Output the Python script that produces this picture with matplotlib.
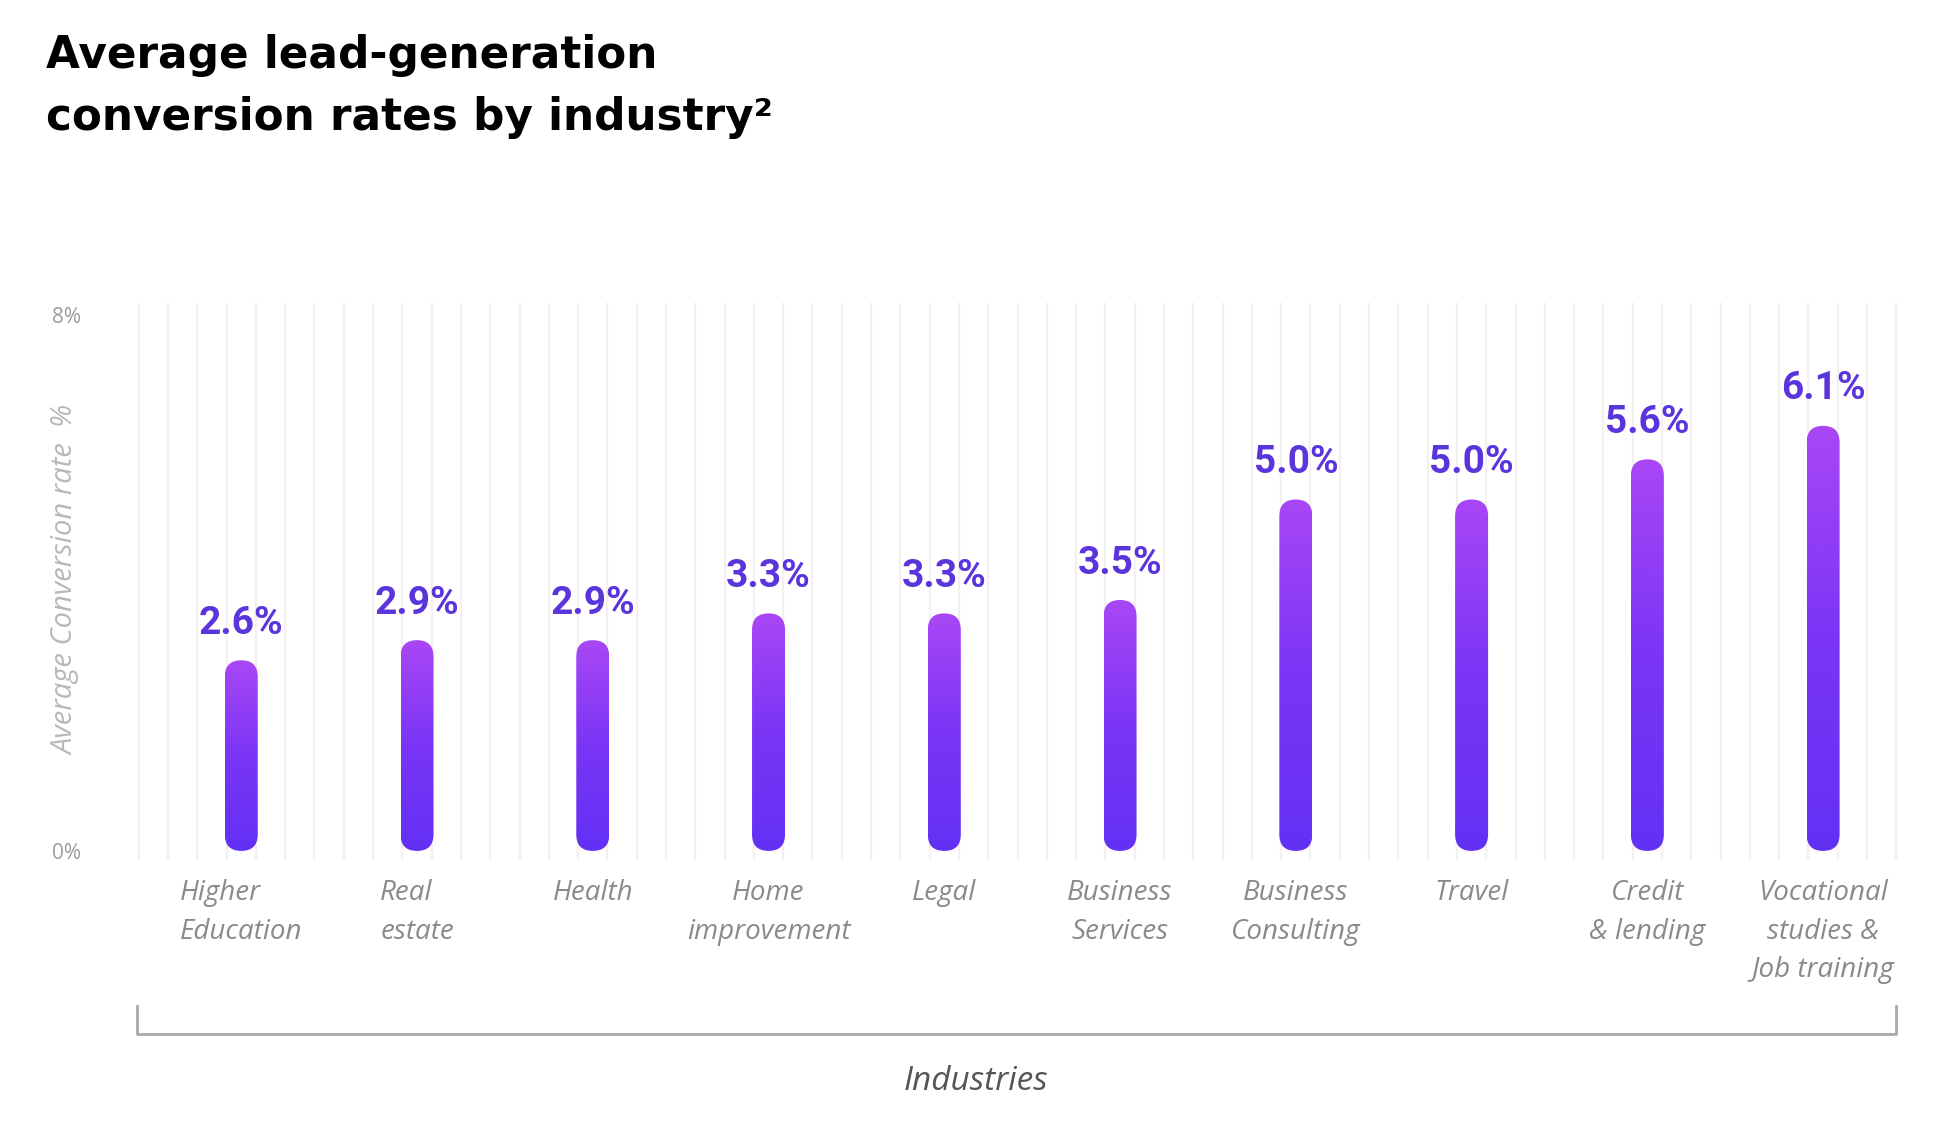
import numpy as np
import matplotlib
matplotlib.use("Agg")
import matplotlib.pyplot as plt
from matplotlib.patches import FancyBboxPatch
from matplotlib.colors import LinearSegmentedColormap
from matplotlib.lines import Line2D

# chart data
industries = ["Higher\nEducation", "Real\nestate", "Health", "Home\nimprovement", "Legal",
              "Business\nServices", "Business\nConsulting", "Travel", "Credit\n& lending",
              "Vocational\nstudies &\nJob training"]
rates = [2.6, 2.9, 2.9, 3.3, 3.3, 3.5, 5.0, 5.0, 5.6, 6.1]
value_labels = ["2.6%", "2.9%", "2.9%", "3.3%", "3.3%", "3.5%", "5.0%", "5.0%", "5.6%", "6.1%"]
y_ticks = [0, 8]
y_tick_labels = ["0%", "8%"]

W, H, DPI = 1938, 1124, 100
fig = plt.figure(figsize=(W / DPI, H / DPI), dpi=DPI)

# axes placement in pixels
left_px, right_px = 127, 1911
top_px, bottom_px = 295, 871
ax = fig.add_axes([left_px / W, 1 - bottom_px / H, (right_px - left_px) / W, (bottom_px - top_px) / H])
xmin, xmax = -0.65, 9.5
ymin, ymax = -0.3, 8.3
ax.set_xlim(xmin, xmax)
ax.set_ylim(ymin, ymax)
for s in ax.spines.values():
    s.set_visible(False)

# thin background grid, six lines per category
for j in range(-4, 57):
    ax.axvline((j + 0.5) / 6, ymin=0.02, ymax=0.985, color="#f1f1f1", lw=1.6, zorder=0)

# bar geometry in data units
x_per_px = (xmax - xmin) / (right_px - left_px)
y_per_px = (ymax - ymin) / (bottom_px - top_px)
bar_w = 33 * x_per_px
r_y = (bar_w / 2) * y_per_px / x_per_px

cmap = LinearSegmentedColormap.from_list("bar", ["#6331f4", "#7a35f5", "#a947f5"])
grad = np.linspace(0, 1, 256).reshape(-1, 1)

x = np.arange(len(rates))
for xi, v, lab in zip(x, rates, value_labels):
    patch = FancyBboxPatch((xi - bar_w / 2, 0), bar_w, v + r_y,
                           boxstyle=f"round,pad=0,rounding_size={bar_w / 2}",
                           mutation_aspect=r_y / (bar_w / 2),
                           facecolor="none", edgecolor="none")
    ax.add_patch(patch)
    im = ax.imshow(grad, cmap=cmap, origin="lower", aspect="auto",
                   extent=(xi - bar_w / 2, xi + bar_w / 2, 0, v + r_y), zorder=2)
    im.set_clip_path(patch)
    ax.annotate(lab, (xi, v + r_y), xytext=(0, 19), textcoords="offset points",
                ha="center", va="baseline", fontsize=28, fontweight="bold",
                family="Roboto", color="#5b35dc")
ax.set_xlim(xmin, xmax)
ax.set_ylim(ymin, ymax)

ax.set_xticks(x)
ax.set_xticklabels(industries, fontsize=20, style="italic", family="Open Sans",
                   color="#8a8a8a", linespacing=1.5)
for t in ax.get_xticklabels()[:2]:
    t.set_multialignment("left")
ax.tick_params(axis="x", length=0, pad=6)
ax.set_yticks(y_ticks)
ax.set_yticklabels(y_tick_labels, fontsize=15, color="#9c9c9c", family="Open Sans")
ax.tick_params(axis="y", length=0, pad=33)

fig.text(66 / W, 1 - 580 / H, "Average Conversion rate  %", rotation=90, ha="center", va="center",
         fontsize=21, style="italic", family="Open Sans", color="#b8b8b8")

# bracket under the labels
bx0, bx1, by, bt = 137 / W, 1896 / W, 1 - 1034 / H, 1 - 1006 / H
fig.add_artist(Line2D([bx0, bx0, bx1, bx1], [bt, by, by, bt], color="#a9a9a9", lw=2))
fig.text(976 / W, 1 - 1082 / H, "Industries", ha="center", va="center", fontsize=24,
         style="italic", family="Open Sans", color="#555555")

fig.text(46 / W, 1 - 68 / H, "Average lead-generation", ha="left", va="baseline",
         fontsize=31.5, fontweight="bold", family="DejaVu Sans", color="#000000")
fig.text(46 / W, 1 - 130 / H, "conversion rates by industry²", ha="left", va="baseline",
         fontsize=31.5, fontweight="bold", family="DejaVu Sans", color="#000000")

fig.savefig("out.png", dpi=DPI, facecolor="white")
